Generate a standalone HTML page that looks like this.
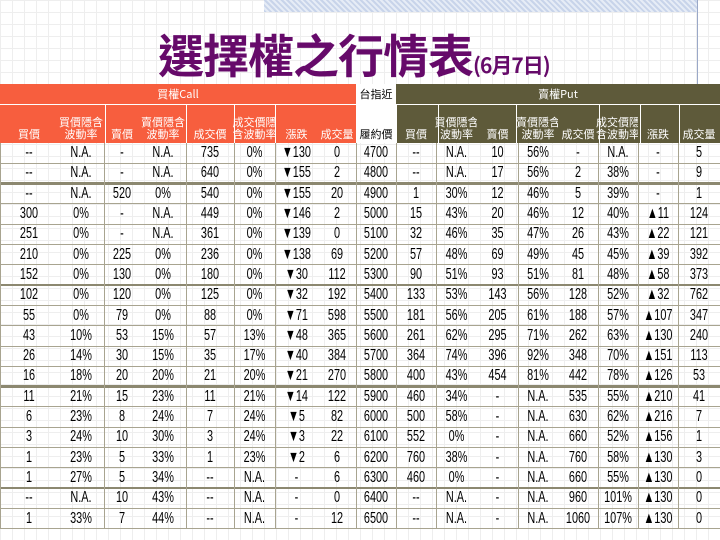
<!DOCTYPE html>
<html><head><meta charset="utf-8">
<style>
body{margin:0;width:720px;height:540px;overflow:hidden;background:#fff;position:relative;font-family:"Liberation Sans","Noto Sans CJK TC",sans-serif;}
.bg{position:absolute;left:0;top:0;width:720px;height:540px;background-image:linear-gradient(#e4e4e4 1px,transparent 1px),linear-gradient(90deg,#e4e4e4 1px,transparent 1px);background-size:12px 12px;opacity:.6}
.hatch{position:absolute;left:264px;top:0;width:434px;height:12px;background:repeating-linear-gradient(45deg,#c8d4ea 0 2px,#e6ecf6 2px 4px)}
.vline{position:absolute;left:697px;top:0;width:1px;height:84px;background:#9aa8c8}
.title{position:absolute;left:158px;top:28px;color:#660a6a;font-weight:bold;font-size:46px;line-height:52px;white-space:nowrap;font-family:"Noto Sans CJK TC",sans-serif;letter-spacing:-1px}
.title span{font-size:21px}
.c{position:absolute;box-sizing:border-box;display:flex;align-items:center;justify-content:center;white-space:nowrap}
.h{color:#fff;font-size:11px;line-height:12px;text-align:center;font-family:"Noto Sans CJK TC",sans-serif}
.d{font-size:16px;color:#000;font-family:"Liberation Sans Narrow","Liberation Sans",sans-serif;transform:scaleX(.68)}
</style></head><body>
<div class="bg"></div>
<div class="hatch"></div>
<div class="vline"></div>
<div class="title">選擇權之行情表<span>(6月7日)</span></div>
<div id="tbl"></div>
<script>
const strikes=["4700","4800","4900","5000","5100","5200","5300","5400","5500","5600","5700","5800","5900","6000","6100","6200","6300","6400","6500"];
const callBid=["--","--","--","300","251","210","152","102","55","43","26","16","11","6","3","1","1","--","1"];
const callBidIV=["N.A.","N.A.","N.A.","0%","0%","0%","0%","0%","0%","10%","14%","18%","21%","23%","24%","23%","27%","N.A.","33%"];
const callAsk=["-","-","520","-","-","225","130","120","79","53","30","20","15","8","10","5","5","10","7"];
const callAskIV=["N.A.","N.A.","0%","N.A.","N.A.","0%","0%","0%","0%","15%","15%","20%","23%","24%","30%","33%","34%","43%","44%"];
const callLast=["735","640","540","449","361","236","180","125","88","57","35","21","11","7","3","1","--","--","--"];
const callLastIV=["0%","0%","0%","0%","0%","0%","0%","0%","0%","13%","17%","20%","21%","24%","24%","23%","N.A.","N.A.","N.A."];
const callChg=["▼130","▼155","▼155","▼146","▼139","▼138","▼30","▼32","▼71","▼48","▼40","▼21","▼14","▼5","▼3","▼2","-","-","-"];
const callVol=["0","2","20","2","0","69","112","192","598","365","384","270","122","82","22","6","6","0","12"];
const putBid=["--","--","1","15","32","57","90","133","181","261","364","400","460","500","552","760","460","--","--"];
const putBidIV=["N.A.","N.A.","30%","43%","46%","48%","51%","53%","56%","62%","74%","43%","34%","58%","0%","38%","0%","N.A.","N.A."];
const putAsk=["10","17","12","20","35","69","93","143","205","295","396","454","-","-","-","-","-","-","-"];
const putAskIV=["56%","56%","46%","46%","47%","49%","51%","56%","61%","71%","92%","81%","N.A.","N.A.","N.A.","N.A.","N.A.","N.A.","N.A."];
const putLast=["-","2","5","12","26","45","81","128","188","262","348","442","535","630","660","760","660","960","1060"];
const putLastIV=["N.A.","38%","39%","40%","43%","45%","48%","52%","57%","63%","70%","78%","55%","62%","52%","58%","55%","101%","107%"];
const putChg=["-","-","-","▲11","▲22","▲39","▲58","▲32","▲107","▲130","▲151","▲126","▲210","▲216","▲156","▲130","▲130","▲130","▲130"];
const putVol=["5","9","1","124","121","392","373","762","347","240","113","53","41","7","1","3","0","0","0"];
const hdr=["買價","買價隱含波動率","賣價","賣價隱含波動率","成交價","成交價隱含波動率","漲跌","成交量","履約價","買價","買價隱含波動率","賣價","賣價隱含波動率","成交價","成交價隱含波動率","漲跌","成交量"];

const T=document.getElementById('tbl');
const ORANGE="#f75e3e",OLIVE="#5e5a3a",GRID="#a8a490";
const colX=[0,58,104,140,186,234,275,318,356,396,436,477,518,558,598,638,678,720];
const gx=[104,186,234,275,356,396,436,518,598,638,678];
const hx=[105,186,234,275,356,396,438,516,599,640,679];
const top0=143,rowH=20.3;
function box(x,y,w,h,css,name,txt,cls){
  const e=document.createElement('div');
  e.className='c'+(cls?' '+cls:'');
  e.style.cssText=`left:${x}px;top:${y}px;width:${w}px;height:${h}px;`+css;
  
  
  if(txt!==undefined){const s=document.createElement('span');s.textContent=txt;e.appendChild(s);}
  T.appendChild(e);return e;
}
box(0,84,356,20,`background:${ORANGE};`,'call-header','買權Call','h');
box(356,84,40,20,`background:#fff;`,'index-header','台指近','h').style.color='#000';
box(396,84,324,20,`background:${OLIVE};`,'put-header','賣權Put','h');
box(0,104,720,1,'background:#fff;','header-divider');
hdr.forEach((t,i)=>{
  const x=colX[i],w=colX[i+1]-colX[i];
  const bg=i<8?ORANGE:(i==8?'#fff':OLIVE);
  const e=box(x,105,w,38,`background:${bg};align-items:flex-end;padding-bottom:3px;`,'column-header',undefined,'h');
  const s=document.createElement('span');
  s.innerHTML=t.length>4?t.slice(0,4)+'<br>'+t.slice(4):t;
  if(i==8)s.style.color='#000';
  e.appendChild(s);
});
hx.forEach(x=>box(x,105,1,38,'background:#fff;','header-col-line'));
const cols=[callBid,callBidIV,callAsk,callAskIV,callLast,callLastIV,callChg,callVol,strikes,putBid,putBidIV,putAsk,putAskIV,putLast,putLastIV,putChg,putVol];
const bottom=top0+rowH*strikes.length;
strikes.forEach((k,r)=>{
  const y=top0+r*rowH;
  cols.forEach((arr,c)=>{
    box(colX[c],y,colX[c+1]-colX[c],rowH,'','cell-'+k+'-'+c,arr[r],'d');
  });
  const thick=(r%5==1);
  box(0,y+rowH-(thick?1.5:0.5),720,thick?2.5:1,`background:${thick?'#8c8870':GRID};`,'row-line');
});
gx.forEach(x=>box(x,top0,1,bottom-top0,`background:${GRID};`,'col-line'));
box(0,top0,1,bottom-top0,`background:${GRID};`,'col-line');
</script>
</body></html>
